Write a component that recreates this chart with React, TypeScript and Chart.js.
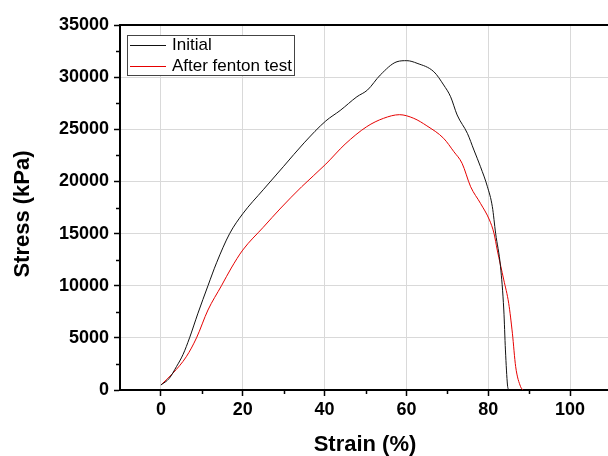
import React, { useEffect, useRef } from "react";
import { Chart, registerables } from "chart.js";

Chart.register(...registerables);

// ---- Data ----
const strainInitial = [0, 2, 3.8, 5.4, 7, 9, 11.5, 13.6, 16.8, 20, 25, 30, 35, 40.3, 43.8, 47.9, 50.5, 53.6, 57.7, 60.1, 62.6, 66.7, 69.1, 70.8, 72.4, 74.9, 76.5, 78.1, 79.8, 81.0, 81.8, 83.0, 83.8, 84.2, 84.7, 85.0];
const stressInitial = [480, 1100, 2240, 3400, 5000, 7300, 10000, 12200, 15000, 16900, 19200, 21450, 23700, 25800, 26800, 28120, 28770, 30200, 31480, 31580, 31330, 30520, 29250, 28120, 26370, 24610, 23010, 21410, 19490, 17580, 15030, 11820, 7670, 3840, 480, 0];

const strainFenton = [0, 2.9, 6.2, 8.7, 11.5, 14.8, 17.2, 20, 25, 29.3, 34.4, 40.3, 45, 50.3, 54.4, 58.3, 61.8, 65, 69.1, 71.6, 73.6, 75.7, 78.1, 80.3, 81.4, 82.2, 83.8, 85.0, 85.9, 86.7, 87.9, 88.5];
const stressFenton = [480, 1600, 3190, 5000, 7670, 10000, 11700, 13420, 15600, 17450, 19490, 21660, 23570, 25250, 26050, 26400, 26050, 25330, 24130, 22850, 21740, 19490, 17900, 16300, 15030, 13420, 10550, 8310, 5440, 2240, 320, 0];

const seriesNames = ["Initial", "After fenton test"];
const xTickValues = [0, 20, 40, 60, 80, 100];
const xMinorTicks = [10, 30, 50, 70, 90];
const yMinorTicks = [2500, 7500, 12500, 17500, 22500, 27500, 32500];
const xTitle = "Strain (%)";
const yTitle = "Stress (kPa)";

const FONT = "Arial, 'Liberation Sans', sans-serif";
const BLACK = "#111111";
const RED = "rgb(230,0,0)";

const decorPlugin = {
  id: "decor",
  afterDraw(chart: any) {
    const { ctx, chartArea } = chart;
    const xs = chart.scales.x;
    const ys = chart.scales.y;
    ctx.save();
    // top border
    ctx.strokeStyle = "#000";
    ctx.lineWidth = 2;
    ctx.beginPath();
    ctx.moveTo(chartArea.left - 1, chartArea.top);
    ctx.lineTo(chartArea.right + 2, chartArea.top);
    ctx.stroke();
    // minor ticks
    ctx.lineWidth = 1.5;
    ctx.beginPath();
    yMinorTicks.forEach((v) => {
      const p = Math.round(ys.getPixelForValue(v)) + 0.5;
      ctx.moveTo(chartArea.left - 4, p);
      ctx.lineTo(chartArea.left, p);
    });
    xMinorTicks.forEach((v) => {
      const p = Math.round(xs.getPixelForValue(v)) + 0.5;
      ctx.moveTo(p, chartArea.bottom);
      ctx.lineTo(p, chartArea.bottom + 4);
    });
    ctx.stroke();

    // axis titles
    ctx.fillStyle = "#000";
    ctx.font = `bold 22px ${FONT}`;
    ctx.textAlign = "center";
    ctx.textBaseline = "middle";
    ctx.fillText(xTitle, (chartArea.left + chartArea.right) / 2 - 0.5, 445);
    ctx.save();
    ctx.translate(22.5, 214);
    ctx.rotate(-Math.PI / 2);
    ctx.fillText(yTitle, 0, 0);
    ctx.restore();

    // legend
    const bx = 127.5, by = 35.5, bw = 167, bh = 40;
    ctx.fillStyle = "#fff";
    ctx.fillRect(bx, by, bw, bh);
    ctx.strokeStyle = "#444";
    ctx.lineWidth = 1;
    ctx.strokeRect(bx, by, bw, bh);
    const rows = [
      { y: 45.5, color: BLACK, text: seriesNames[0] },
      { y: 66.5, color: RED, text: seriesNames[1] },
    ];
    ctx.font = `17px ${FONT}`;
    ctx.textAlign = "left";
    rows.forEach((r) => {
      ctx.strokeStyle = r.color;
      ctx.lineWidth = 1;
      ctx.beginPath();
      ctx.moveTo(130, r.y);
      ctx.lineTo(166, r.y);
      ctx.stroke();
      ctx.fillStyle = "#000";
      ctx.fillText(r.text, 172, r.y);
    });
    ctx.restore();
  },
};

export default function App() {
  const canvasRef = useRef<HTMLCanvasElement | null>(null);

  useEffect(() => {
    if (!canvasRef.current) return;
    const chart = new Chart(canvasRef.current, {
      type: "scatter",
      data: {
        datasets: [
          {
            label: seriesNames[0],
            data: strainInitial.map((x, i) => ({ x, y: stressInitial[i] })),
            showLine: true,
            borderColor: BLACK,
            backgroundColor: BLACK,
            borderWidth: 1,
            pointRadius: 0,
            cubicInterpolationMode: "monotone",
          },
          {
            label: seriesNames[1],
            data: strainFenton.map((x, i) => ({ x, y: stressFenton[i] })),
            showLine: true,
            borderColor: RED,
            backgroundColor: RED,
            borderWidth: 1,
            pointRadius: 0,
            cubicInterpolationMode: "monotone",
          },
        ],
      },
      options: {
        responsive: false,
        animation: false,
        devicePixelRatio: 1,
        layout: { padding: { top: 25, left: 0, right: 0, bottom: 0 } },
        plugins: {
          legend: { display: false },
          tooltip: { enabled: false },
        },
        scales: {
          x: {
            type: "linear",
            min: -10,
            max: 110,
            afterBuildTicks: (s: any) => {
              s.ticks = xTickValues.map((v) => ({ value: v }));
            },
            afterFit: (s: any) => {
              s.height = 66;
            },
            ticks: {
              color: "#000",
              font: { family: FONT, size: 18, weight: "bold" },
              padding: 3,
              callback: (v: any) => String(v),
            },
            grid: {
              color: "#d9d9d9",
              lineWidth: 1,
              tickColor: "#000",
              tickLength: 6,
              tickWidth: 1.5,
            },
            border: { color: "#000", width: 2 },
          },
          y: {
            type: "linear",
            min: 0,
            max: 35000,
            afterFit: (s: any) => {
              s.width = 120;
            },
            ticks: {
              stepSize: 5000,
              color: "#000",
              font: { family: FONT, size: 18, weight: "bold" },
              padding: 5,
              callback: (v: any) => String(v),
            },
            grid: {
              color: "#d9d9d9",
              lineWidth: 1,
              tickColor: "#000",
              tickLength: 6,
              tickWidth: 1.5,
            },
            border: { color: "#000", width: 2 },
          },
        },
      },
      plugins: [decorPlugin],
    });
    return () => chart.destroy();
  }, []);

  return (
    <div
      style={{
        position: "absolute",
        left: 0,
        top: 0,
        width: 608,
        height: 456,
        overflow: "hidden",
        background: "#fff",
      }}
    >
      <canvas ref={canvasRef} width={611} height={456} style={{ display: "block", width: 611, height: 456 }} />
    </div>
  );
}
